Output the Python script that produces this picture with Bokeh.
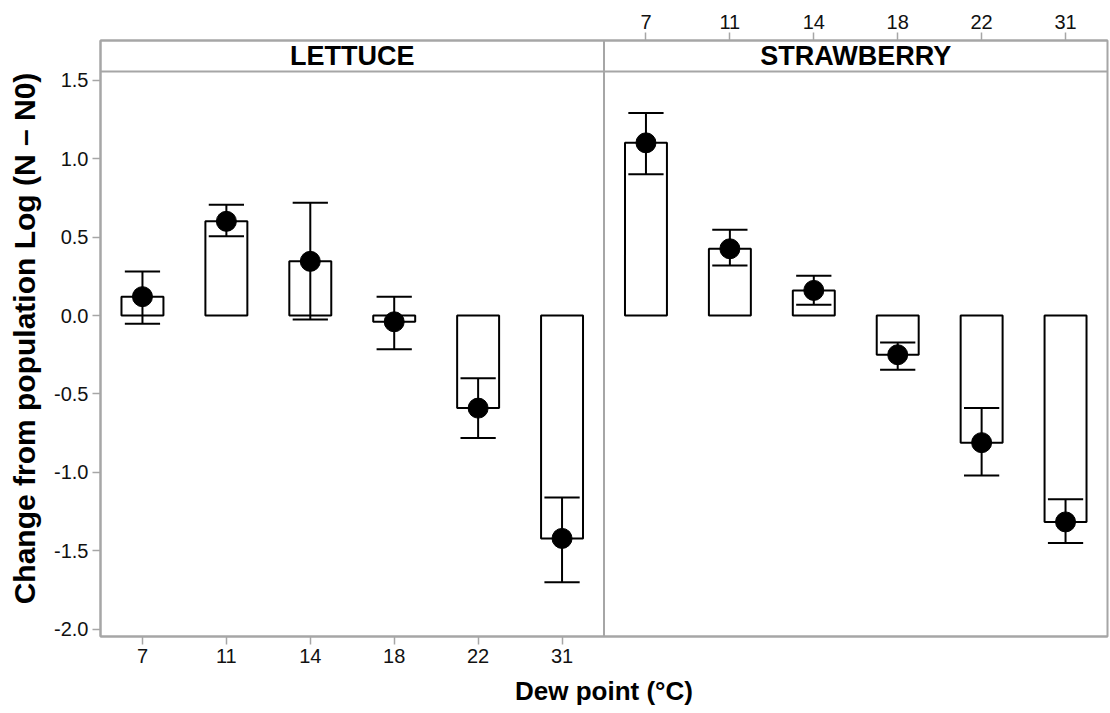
from bokeh.plotting import figure
from bokeh.models import Range1d, LinearAxis, FixedTicker, Span, Label, ColumnDataSource
from bokeh.embed import file_html
from bokeh.resources import INLINE

# ---- data ----
dew_points = ["7", "11", "14", "18", "22", "31"]
crops = ["LETTUCE", "STRAWBERRY"]

lettuce_mean = [0.12, 0.60, 0.345, -0.04, -0.59, -1.42]
lettuce_err_hi = [0.28, 0.705, 0.718, 0.12, -0.40, -1.16]
lettuce_err_lo = [-0.053, 0.505, -0.025, -0.215, -0.78, -1.70]

straw_mean = [1.10, 0.425, 0.16, -0.25, -0.81, -1.315]
straw_err_hi = [1.29, 0.546, 0.253, -0.172, -0.59, -1.17]
straw_err_lo = [0.90, 0.318, 0.068, -0.346, -1.02, -1.45]

y_ticks = [-2.0, -1.5, -1.0, -0.5, 0.0, 0.5, 1.0, 1.5]

# ---- layout constants ----
GREY = "#a6a6a6"
FONT = "Liberation Sans"
n = len(dew_points)
xl = [i + 0.5 for i in range(n)]
xs = [n + i + 0.5 for i in range(n)]
y_lo, y_plot_top, y_strip_top = -2.045, 1.555, 1.752

p = figure(width=1110, height=713, x_range=Range1d(0, 2 * n),
           y_range=Range1d(y_lo, y_strip_top),
           output_backend="svg", toolbar_location=None,
           x_axis_location=None, y_axis_location=None,
           min_border_left=100, min_border_right=3,
           min_border_top=40, min_border_bottom=77)
p.grid.visible = False
p.outline_line_color = GREY
p.outline_line_width = 2
p.background_fill_color = "white"
p.border_fill_color = "white"

def style_axis(ax):
    ax.axis_line_color = GREY
    ax.axis_line_width = 2
    ax.major_tick_line_color = GREY
    ax.major_tick_line_width = 1.5
    ax.major_tick_in = 0
    ax.major_tick_out = 8
    ax.minor_tick_line_color = None
    ax.major_label_text_font = FONT
    ax.major_label_text_font_size = "20px"
    ax.major_label_text_color = "#111111"
    ax.major_label_standoff = 4
    ax.axis_label_text_font = FONT
    ax.axis_label_text_font_style = "bold"
    ax.axis_label_text_color = "#000000"

yax = LinearAxis(ticker=FixedTicker(ticks=y_ticks))
style_axis(yax)
yax.major_label_overrides = {t: f"{t:.1f}" for t in y_ticks}
yax.axis_label = "Change from population Log (N \u2013 N0)"
yax.axis_label_text_font_size = "30px"
yax.axis_label_standoff = 10
p.add_layout(yax, "left")

bax = LinearAxis(ticker=FixedTicker(ticks=xl))
style_axis(bax)
bax.major_label_overrides = {x: lab for x, lab in zip(xl, dew_points)}
bax.axis_label = "Dew point (\u00b0C)"
bax.axis_label_text_font_size = "26px"
bax.axis_label_standoff = 10
p.add_layout(bax, "below")

tax = LinearAxis(ticker=FixedTicker(ticks=xs))
style_axis(tax)
tax.major_label_overrides = {x: lab for x, lab in zip(xs, dew_points)}
p.add_layout(tax, "above")

# panel divider and strip line
p.add_layout(Span(location=n, dimension="height", line_color=GREY, line_width=2))
p.add_layout(Span(location=y_plot_top, dimension="width", line_color=GREY, line_width=2))

# strip labels
for i, crop in enumerate(crops):
    p.add_layout(Label(x=i * n + n / 2, y=(y_plot_top + y_strip_top) / 2, text=crop,
                       text_font=FONT, text_font_style="bold", text_font_size="27px",
                       text_color="#000000",
                       text_align="center", text_baseline="middle"))

cap = 0.21
for xpos, mean, hi, lo in [(xl, lettuce_mean, lettuce_err_hi, lettuce_err_lo),
                           (xs, straw_mean, straw_err_hi, straw_err_lo)]:
    src = ColumnDataSource(dict(
        x=xpos, mean=mean, hi=hi, lo=lo,
        x0=[x - cap for x in xpos], x1=[x + cap for x in xpos]))
    p.vbar(x="x", top="mean", bottom=0, width=0.5, source=src,
           fill_color="white", line_color="black", line_width=2)
    p.segment(x0="x", y0="lo", x1="x", y1="hi", source=src,
              line_color="black", line_width=2)
    p.segment(x0="x0", y0="hi", x1="x1", y1="hi", source=src,
              line_color="black", line_width=2)
    p.segment(x0="x0", y0="lo", x1="x1", y1="lo", source=src,
              line_color="black", line_width=2)
    p.scatter(x="x", y="mean", size=20, source=src,
              fill_color="black", line_color="black")

open("out.html", "w").write(file_html(p, INLINE))
